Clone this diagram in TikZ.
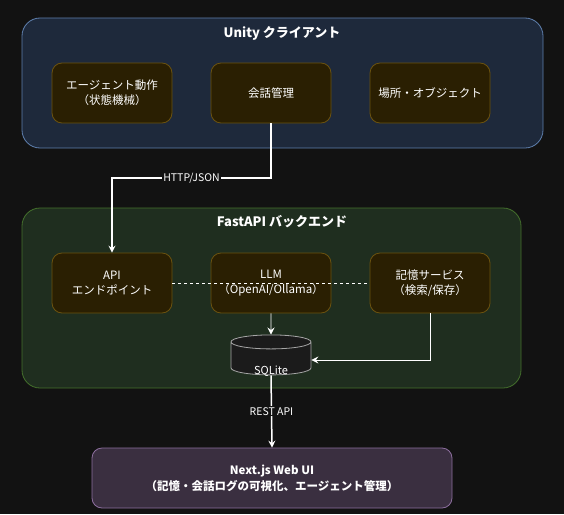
\documentclass[tikz,border=0pt]{standalone}
\usepackage{fontspec}
\setmainfont{Noto Sans CJK JP}
\usetikzlibrary{arrows.meta, shapes.geometric}

\definecolor{bgdark}{HTML}{121212}
\definecolor{unityfill}{HTML}{1E293B}
\definecolor{unityline}{HTML}{5F80AE}
\definecolor{apifill}{HTML}{1F2E1F}
\definecolor{apiline}{HTML}{44702C}
\definecolor{boxfill}{HTML}{2A1F02}
\definecolor{boxline}{HTML}{6B520F}
\definecolor{webfill}{HTML}{3A2F40}
\definecolor{webline}{HTML}{8C6E9E}
\definecolor{dbfill}{HTML}{1B1B1B}

\begin{document}
\begin{tikzpicture}[
    x=1pt, y=-1pt,
    >={Stealth[length=7pt, width=7pt, inset=2.5pt]},
    group/.style={draw, line width=0.8pt, rounded corners=18pt, minimum width=#1},
    part/.style={draw=boxline, fill=boxfill, line width=0.8pt, rounded corners=10pt,
        minimum width=120pt, minimum height=60pt, align=center, text=white,
        font=\fontsize{11.5}{15}\selectfont},
    title/.style={text=white, font=\fontsize{13}{16}\selectfont\bfseries},
    link/.style={draw=white, line width=1.5pt, ->},
    thinlink/.style={draw=white, line width=0.8pt, ->},
    tag/.style={fill=bgdark, text=white, inner sep=1pt, font=\fontsize{10.5}{12}\selectfont}
]

% Background and page frame
\fill[bgdark] (0,0) rectangle (564,514);
\useasboundingbox (0,0) rectangle (564,514);

% Unity client
\node[group=521pt, draw=unityline, fill=unityfill, minimum height=130pt] (unity) at (282.5,83) {};
\node[title] (unitytitle) at (282,33) {Unity クライアント};
\node[part] (agent) at (112,93) {エージェント動作\\（状態機械）};
\node[part] (talk) at (271,93) {会話管理};
\node[part] (place) at (430,93) {場所・オブジェクト};

% FastAPI backend
\node[group=499pt, draw=apiline, fill=apifill, minimum height=180pt] (backend) at (271.5,298) {};
\node[title] (backendtitle) at (282,222) {FastAPI バックエンド};
\node[part] (api) at (112,283) {API\\エンドポイント};
\node[part] (llm) at (271,283) {LLM\\（OpenAI/Ollama）};
\node[part] (memory) at (430,283) {記憶サービス\\（検索/保存）};

% Database
\node[cylinder, shape border rotate=90, aspect=2.1, draw=gray!70, fill=dbfill,
    line width=0.8pt, minimum width=80pt, minimum height=40pt] (db) at (271,360) {};
\node[text=white, font=\fontsize{11}{13}\selectfont] (dblabel) at (271,371) {SQLite};

% Web UI
\node[draw=webline, fill=webfill, line width=0.8pt, rounded corners=10pt,
    minimum width=360pt, minimum height=60pt, align=center, text=white,
    font=\fontsize{11.5}{16}\selectfont\bfseries] (web) at (272,478)
    {Next.js Web UI\\（記憶・会話ログの可視化、エージェント管理）};

% Connectors
\draw[link] (talk.south) -- (talk.south |- 0,178) -| (api.north)
    node[tag, pos=0.25] {HTTP/JSON};
\draw[white, dashed, line width=0.8pt] (api.east) -- (memory.west);
\draw[thinlink] (llm.south) -- (db.north);
\draw[thinlink] (memory.south) |- (db.east);
\draw[link] (db.south) -- (web.north)
    node[tag, midway] {REST API};

\end{tikzpicture}
\end{document}
